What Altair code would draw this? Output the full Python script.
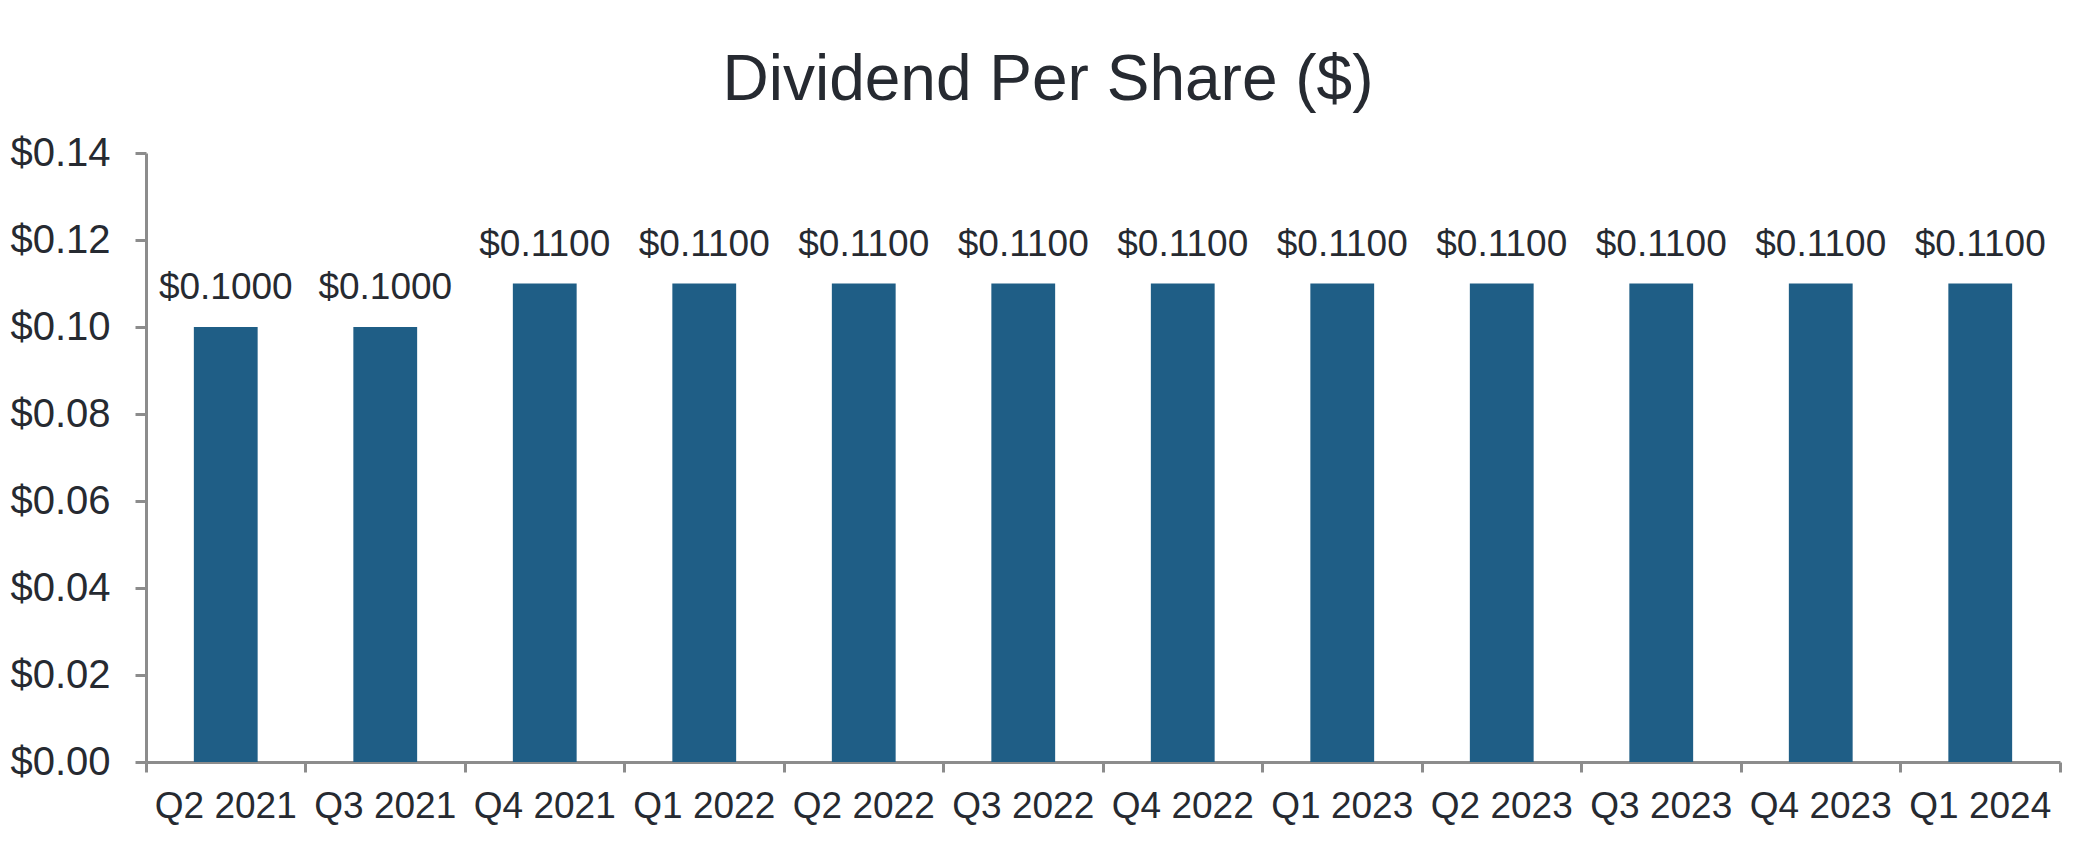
import altair as alt
import pandas as pd

quarters = ["Q2 2021", "Q3 2021", "Q4 2021", "Q1 2022", "Q2 2022", "Q3 2022",
            "Q4 2022", "Q1 2023", "Q2 2023", "Q3 2023", "Q4 2023", "Q1 2024"]
dividends = [0.10, 0.10, 0.11, 0.11, 0.11, 0.11, 0.11, 0.11, 0.11, 0.11, 0.11, 0.11]
y_ticks = [0.00, 0.02, 0.04, 0.06, 0.08, 0.10, 0.12, 0.14]

df = pd.DataFrame({"quarter": quarters, "dividend": dividends})

FONT = "Liberation Sans"
TEXT = "#262a31"
AXIS = "#8c8c8c"
BAR = "#1f5e86"

x = alt.X("quarter:N", sort=quarters, title=None,
          scale=alt.Scale(paddingInner=0, paddingOuter=0),
          axis=alt.Axis(labelAngle=0, labelFont=FONT, labelFontSize=37, labelColor=TEXT,
                        labelBaseline="alphabetic", labelPadding=45,
                        domainColor=AXIS, domainWidth=3, tickColor=AXIS, tickWidth=3,
                        tickSize=10, bandPosition=1, tickExtra=True, grid=False))
y = alt.Y("dividend:Q", title=None,
          scale=alt.Scale(domain=[0, 0.14], nice=False),
          axis=alt.Axis(values=y_ticks, format="$.2f", labelFont=FONT, labelFontSize=40,
                        labelColor=TEXT, labelPadding=25, domainColor=AXIS, domainWidth=3,
                        tickColor=AXIS, tickWidth=3, tickSize=11, grid=False))

base = alt.Chart(df)
bars = base.mark_bar(color=BAR, width=alt.RelativeBandSize(0.4)).encode(x=x, y=y)
labels = base.mark_text(font=FONT, fontSize=37, color=TEXT, baseline="alphabetic", dy=-28).encode(
    x=alt.X("quarter:N", sort=quarters),
    y=alt.Y("dividend:Q"),
    text=alt.Text("dividend:Q", format="$.4f"),
)

chart = (bars + labels).properties(
    width=1914, height=609,
    title=alt.Title("Dividend Per Share ($)", font=FONT, fontSize=64, fontWeight="normal",
                    color=TEXT, anchor="middle", dx=-55, offset=20),
    autosize=alt.AutoSizeParams(type="none"),
    padding={"left": 138, "top": 145, "right": 10, "bottom": 80},
    background="white",
).configure_view(stroke=None)

chart.save("out.html", embed_options={"renderer": "svg", "actions": False})
